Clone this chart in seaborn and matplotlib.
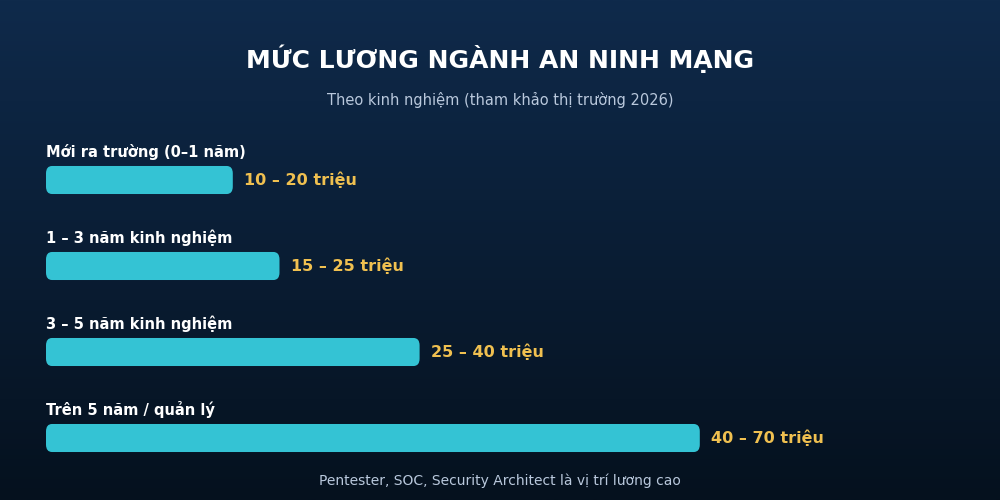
import numpy as np
import pandas as pd
import matplotlib
matplotlib.use("Agg")
import matplotlib.pyplot as plt
import seaborn as sns
from matplotlib.patches import FancyBboxPatch

categories = ["Mới ra trường (0–1 năm)", "1 – 3 năm kinh nghiệm", "3 – 5 năm kinh nghiệm", "Trên 5 năm / quản lý"]
low_values = [10, 15, 25, 40]
high_values = [20, 25, 40, 70]
value_labels = ["10 – 20 triệu", "15 – 25 triệu", "25 – 40 triệu", "40 – 70 triệu"]
title = "MỨC LƯƠNG NGÀNH AN NINH MẠNG"
subtitle = "Theo kinh nghiệm (tham khảo thị trường 2026)"
footer = "Pentester, SOC, Security Architect là vị trí lương cao"

sns.set_theme(style="white")
plt.rcParams['font.family'] = ['sans-serif']
plt.rcParams['font.sans-serif'] = ['DejaVu Sans']
FAM = ['DejaVu Sans']

fig = plt.figure(figsize=(10, 5), dpi=100)
bg = fig.add_axes([0, 0, 1, 1], zorder=0)
grad = np.linspace(0, 1, 256).reshape(-1, 1)
top = np.array([0x0f, 0x2a, 0x4b]) / 255
bot = np.array([0x05, 0x11, 0x1e]) / 255
img = top[None, None, :] * (1 - grad[:, :, None]) + bot[None, None, :] * grad[:, :, None]
bg.imshow(img, aspect="auto", extent=[0, 1, 0, 1])
bg.axis("off")

ax = fig.add_axes([0.046, 0.038, 0.934, 0.688], zorder=1)
ax.patch.set_alpha(0)
df = pd.DataFrame({"cat": categories, "val": high_values})
sns.barplot(data=df, y="cat", x="val", orient="h", color="#34c3d4", width=0.326, ax=ax, saturation=1)
ax.set_xlim(0, 100)
ax.set_ylim(3.5, -0.5)
for p in list(ax.patches):
    x, y, w, h = p.get_x(), p.get_y(), p.get_width(), p.get_height()
    p.remove()
    fb = FancyBboxPatch((x, y), w, h, boxstyle="round,pad=0,rounding_size=0.65",
                        facecolor="#34c3d4", edgecolor="none")
    fb.set_mutation_aspect(0.12 / 0.9)
    ax.add_patch(fb)
for i, (c, v, lbl) in enumerate(zip(categories, high_values, value_labels)):
    ax.text(0, i - 0.33, c, color="white", fontsize=10.5, fontweight="bold", va="center", ha="left", family=FAM)
    ax.text(v + 1.25, i, lbl, color="#f0c050", fontsize=11.5, fontweight="bold", va="center", ha="left", family=FAM)
ax.axis("off")

fig.text(0.5, 0.882, title, color="white", fontsize=18, fontweight="bold", ha="center", va="center", family=FAM)
fig.text(0.5, 0.8, subtitle, color="#b9c8dc", fontsize=10.5, ha="center", va="center", family=FAM)
fig.text(0.5, 0.038, footer, color="#b9c8dc", fontsize=10, ha="center", va="center", family=FAM)

fig.savefig("out.png", dpi=100)
